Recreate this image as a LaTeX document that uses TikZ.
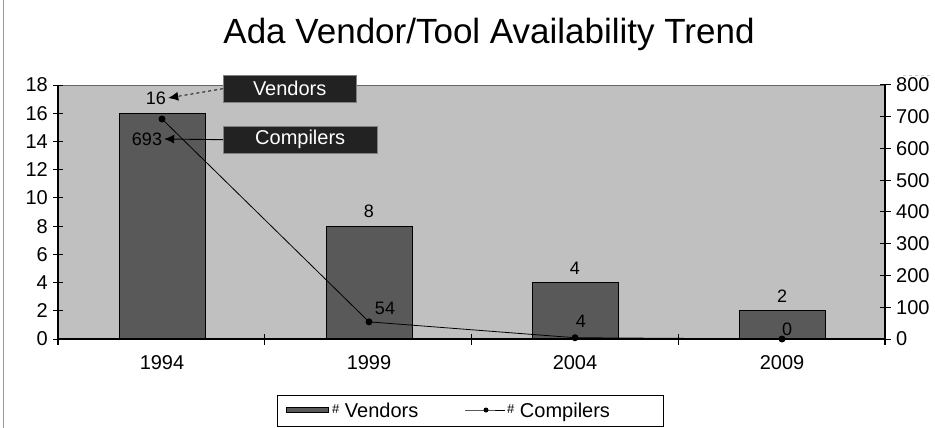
\documentclass[tikz,border=0pt]{standalone}
\usepackage{fontspec}
\setmainfont{Liberation Sans}
\usetikzlibrary{arrows.meta,positioning}

\definecolor{plotbg}{HTML}{C0C0C0}
\definecolor{barfill}{HTML}{595959}
\definecolor{boxfill}{HTML}{222222}

\begin{document}
\begin{tikzpicture}[x=1pt,y=-1pt,
  every node/.style={font=\fontsize{20}{22}\selectfont,inner sep=2pt},
  datalbl/.style={font=\fontsize{18}{20}\selectfont},
  barbox/.style={draw=black,fill=barfill,line width=1pt,inner sep=0pt,outer sep=0pt,minimum width=86pt,anchor=south},
  dotmark/.style={circle,fill=black,inner sep=0pt,minimum size=7pt},
  callout/.style={draw=gray,fill=boxfill,text=white,anchor=north west,inner sep=0pt,
    minimum height=27pt,font=\fontsize{20}{22}\selectfont}]

  \useasboundingbox (0,0) rectangle (935,428);

  % Frame line on the left
  \draw[gray!80,line width=0.8pt] (3,0) -- (3,428);

  % Title
  \node[font=\fontsize{35}{38}\selectfont] (title) at (489,34) {Ada Vendor/Tool Availability Trend};

  % Plot area
  \fill[plotbg] (58,85) rectangle (885,339);
  \draw[gray!80!black,line width=0.8pt] (58,85) -- (885,85);
  \draw[gray!40,dashed] (903,75) -- (932,75);

  % Vendor bars with values
  \foreach \i/\cx/\v in {1/162/16, 2/369/8, 3/575/4, 4/782/2} {
    \node[barbox,minimum height={\v*14.11pt}] (bar\i) at (\cx,339) {};
  }
  \foreach \i/\v in {2/8, 3/4, 4/2} {
    \node[datalbl,above=6pt of bar\i] (vlbl\i) {\v};
  }

  % Left axis (vendors)
  \draw[line width=1.2pt] (58,85) -- (58,345);
  \foreach \v in {0,2,...,18} {
    \draw[line width=1pt] (53,{339-\v*14.11}) -- (63,{339-\v*14.11});
    \node[anchor=east] (ll\v) at (50,{339-\v*14.11}) {\v};
  }

  % Right axis (compilers)
  \draw[line width=1.2pt] (885,85) -- (885,345);
  \foreach \v in {0,100,...,800} {
    \draw[line width=1pt] (880,{339-\v*0.3175}) -- (891,{339-\v*0.3175});
    \node[anchor=west] (rl\v) at (894,{339-\v*0.3175}) {\v};
  }

  % Category axis
  \draw[line width=1.5pt] (58,339) -- (885,339);
  \foreach \k in {0,...,4} {
    \draw[line width=1pt] ({58+\k*206.75},334) -- ({58+\k*206.75},345);
  }
  \foreach \i/\cx/\yr in {1/162/1994, 2/369/1999, 3/575/2004, 4/782/2009} {
    \node (year\i) at (\cx,363) {\yr};
  }

  % Compilers line
  \foreach \i/\cx/\v in {1/162/693, 2/369/54, 3/575/4, 4/782/0} {
    \node[dotmark] (cmp\i) at (\cx,{339-\v*0.3175}) {};
  }
  \draw[line width=0.8pt] (cmp1.center) -- (cmp2.center) -- (cmp3.center) -- (cmp4.center);
  \node[datalbl] (clbl2) at (385,308) {54};
  \node[datalbl] (clbl3) at (581,321) {4};
  \node[datalbl] (clbl4) at (787,329) {0};

  % Callouts
  \node[datalbl] (vend16) at (156,98) {16};
  \node[datalbl] (comp693) at (147,139) {693};
  \node[callout,minimum width=133pt] (vendbox) at (223,75) {Vendors};
  \node[callout,minimum width=154pt] (compbox) at (223,126) {Compilers};
  \draw[dashed,line width=0.9pt,-{Latex[length=10pt,width=9pt]}] (vendbox.west) -- (vend16.east);
  \draw[line width=0.9pt,-{Latex[length=10pt,width=9pt]}] (compbox.west) -- (comp693.east);

  % Legend
  \node[draw,line width=1pt,anchor=north west,minimum width=386pt,minimum height=31pt,inner sep=0pt] (legend) at (277,395) {};
  \node[barbox,anchor=center,minimum width=42pt,minimum height=5pt] (legbar) at (307,410) {};
  \node[anchor=base west,inner sep=0pt] (legvend) at (332,417) {\raisebox{4pt}{\fontsize{13}{13}\selectfont\#} Vendors};
  \coordinate (legA) at (465,410);
  \coordinate (legB) at (505,410);
  \node[dotmark,minimum size=5pt] (legdot) at (486,410) {};
  \draw[line width=0.8pt] (legA) -- (legdot.center) -- (legB);
  \node[anchor=base west,inner sep=0pt] (legcomp) at (507,417) {\raisebox{4pt}{\fontsize{13}{13}\selectfont\#} Compilers};
\end{tikzpicture}
\end{document}
